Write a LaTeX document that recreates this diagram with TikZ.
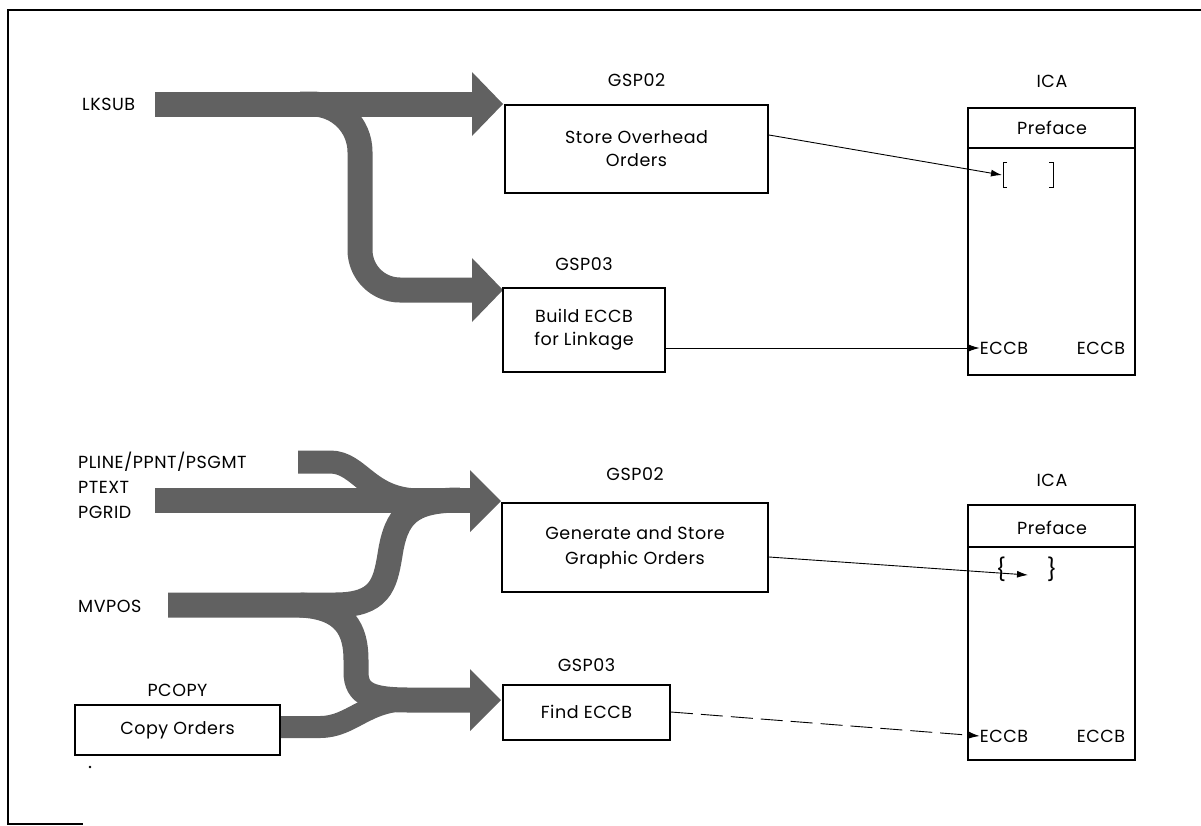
\documentclass[tikz,border=0pt]{standalone}
\usepackage{fontspec}
\setmainfont{Poppins}[LetterSpace=3]
\usetikzlibrary{arrows.meta}
\begin{document}
\begin{tikzpicture}[x=1pt,y=-1pt,
  box/.style={draw,line width=2pt},
  lbl/.style={font=\fontsize{17.5}{20}\selectfont,inner sep=0pt},
  txt/.style={font=\fontsize{17.5}{23}\selectfont,align=center,inner sep=0pt},
  band/.style={draw=black!62,line width=25pt},
  head/.style={fill=black!62},
  conn/.style={line width=0.9pt,-{Latex[length=11pt,width=7pt]}},
  frame/.style={line width=1.6pt}]
\useasboundingbox (0,0) rectangle (1201,825);
% frame
\draw[frame] (1201,10) -- (8,10) -- (8,824) -- (83,824);

% ---------- top section ----------
\node[lbl,anchor=west] (lksub) at (82,104) {LKSUB};
\coordinate (a1s) at (155,104);
\coordinate (a1e) at (472,104);
\coordinate (a2e) at (472,290);
\draw[band] (a1s) -- (a1e);
\draw[band] (300,104) [rounded corners=48pt] -- (360,104) [rounded corners=40pt] -- (360,290) -- (a2e);
\fill[head] (472,72) -- (503,104) -- (472,136) -- cycle;
\fill[head] (472,258) -- (503,290) -- (472,322) -- cycle;

\node[box,minimum width=263pt,minimum height=88pt] (g02a) at (636.5,149) {};
\node[txt] at (g02a) {Store Overhead\\Orders};
\node[lbl] (g02al) at (636.5,80) {GSP02};

\node[box,minimum width=162pt,minimum height=84pt] (g03a) at (584,330) {};
\node[txt] at (g03a) {Build ECCB\\for Linkage};
\node[lbl] (g03al) at (584,264) {GSP03};

\draw[box] (968,108) rectangle (1135,375);
\draw[line width=1.4pt] (968,148) -- (1135,148);
\node[lbl] (icaal) at (1052,81) {ICA};
\node[lbl] (prefa) at (1052,128) {Preface};
\draw[line width=1pt] (1007,162) -- (1003,162) -- (1003,187) -- (1007,187);
\draw[line width=1pt] (1049,162) -- (1053,162) -- (1053,187) -- (1049,187);
\coordinate (brk) at (1002,175);
\node[lbl] (ecc1) at (1004,348) {ECCB};
\node[lbl] (ecc2) at (1101,348) {ECCB};
\draw[conn] (g02a.east |- 0,135) -- (brk);
\draw[conn] (g03a.east |- 0,348) -- (ecc1.west);

% ---------- bottom section ----------
\node[lbl,anchor=west] (pline) at (78,462) {PLINE/PPNT/PSGMT};
\node[lbl,anchor=west] (ptext) at (78,487) {PTEXT};
\node[lbl,anchor=west] (pgrid) at (78,512) {PGRID};
\node[lbl,anchor=west] (mvpos) at (78,606) {MVPOS};

\draw[band] (155,500) -- (472,500);
\draw[band,line width=23pt] (298,462) -- (330,462) .. controls (360,462) and (368,500) .. (420,500);
\draw[band] (168,605) -- (335,605) .. controls (380,605) and (385,585) .. (390,555) .. controls (396,515) and (410,500) .. (460,500);
\draw[band] (300,605) .. controls (345,607) and (356,630) .. (356,660) -- (356,672) .. controls (356,695) and (372,700) .. (410,700) -- (472,700);
\fill[head] (470,470) -- (501,501) -- (470,532) -- cycle;
\fill[head] (470,669) -- (501,700) -- (470,731) -- cycle;

\node[box,minimum width=205pt,minimum height=50pt] (copy) at (177.5,730) {};
\node[txt] at (copy) {Copy Orders};
\node[lbl] (copyl) at (177.5,690) {PCOPY};
\draw[band,line width=22pt] (copy.east |- 0,727) -- (320,727) .. controls (352,727) and (365,700) .. (410,700);
\fill (90,767) circle (1.3pt);

\node[box,minimum width=266pt,minimum height=89pt] (g02b) at (635,547.5) {};
\node[txt,font=\fontsize{17.5}{25}\selectfont] at (g02b) {Generate and Store\\Graphic Orders};
\node[lbl] (g02bl) at (635,474) {GSP02};

\node[box,minimum width=167pt,minimum height=55pt] (g03b) at (586.5,712) {};
\node[txt] at (g03b) {Find ECCB};
\node[lbl] (g03bl) at (586.5,665) {GSP03};

\draw[box] (968,505) rectangle (1135,760);
\draw[line width=1.4pt] (968,547) -- (1135,547);
\node[lbl] (icabl) at (1052,480) {ICA};
\node[lbl] (prefb) at (1052,528) {Preface};
\node[lbl,font=\fontsize{22}{24}\selectfont] (lbr) at (1001,569) {\{};
\node[lbl,font=\fontsize{22}{24}\selectfont] (rbr) at (1052,569) {\}};
\coordinate (brc) at (1028,575);
\node[lbl] (ecc3) at (1004,736) {ECCB};
\node[lbl] (ecc4) at (1101,736) {ECCB};
\draw[conn] (g02b.east |- 0,557) -- (brc);
\draw[conn,dash pattern=on 22pt off 8pt] (g03b.east) -- (ecc3.west);
\end{tikzpicture}
\end{document}
